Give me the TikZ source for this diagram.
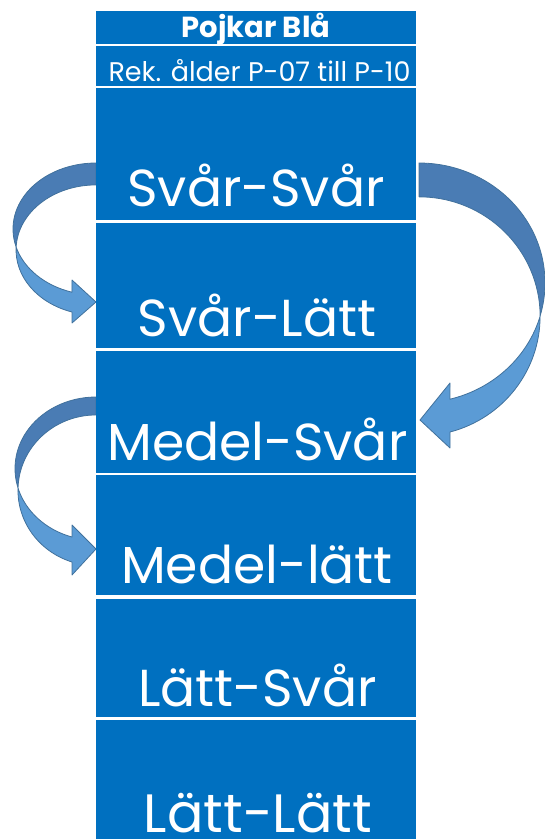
\documentclass[tikz,border=0pt]{standalone}
\usepackage{fontspec}
\setmainfont{Poppins}
\begin{document}
\begin{tikzpicture}[x=1pt,y=1pt,
  cell/.style={fill=cellblue, draw=none, minimum width=320pt, inner sep=0pt, anchor=north},
  big/.style={text=white, anchor=base, inner sep=0pt, text depth=0pt, font=\fontsize{52}{52}\selectfont},
  darkpart/.style={fill=arrdark, draw=arrline, line width=0.8pt, line join=round},
  lightpart/.style={fill=arrlight, draw=arrline, line width=0.8pt, line join=round}]
\definecolor{cellblue}{RGB}{0,112,192}
\definecolor{arrdark}{RGB}{74,124,180}
\definecolor{arrlight}{RGB}{91,155,213}
\definecolor{arrline}{RGB}{65,113,156}
\useasboundingbox (0,0) rectangle (545,-839);
% ---- curved arrows (drawn first) ----
% left arrow 1: Svar-Svar -> Svar-Latt
\draw[darkpart] (96,-163) arc[start angle=90, end angle=195.8, x radius=83pt, y radius=66pt]
  arc[start angle=177.4, end angle=90, x radius=80pt, y radius=65pt] -- cycle;
\draw[lightpart] (16.1,-247) arc[start angle=195.8, end angle=253.2, x radius=83pt, y radius=66pt]
  -- (72,-280) -- (96,-302) -- (72,-323) -- (72,-312)
  arc[start angle=252.5, end angle=177.4, x radius=80pt, y radius=65pt] -- cycle;
% left arrow 2: Medel-Svar -> Medel-latt
\draw[darkpart] (96,-397) arc[start angle=90, end angle=195.7, x radius=81pt, y radius=71.6pt]
  arc[start angle=178.25, end angle=90, x radius=78pt, y radius=75.3pt] -- cycle;
\draw[lightpart] (18,-488) arc[start angle=195.7, end angle=252.8, x radius=81pt, y radius=71.6pt]
  -- (72,-525) -- (96,-549) -- (72,-575) -- (72,-562)
  arc[start angle=252.1, end angle=178.25, x radius=78pt, y radius=75.3pt] -- cycle;
% right arrow: Svar-Svar -> Medel-Svar
\draw[darkpart] (419,-163) arc[start angle=90, end angle=-16, x radius=126pt, y radius=119.9pt]
  arc[start angle=0.2, end angle=90, x radius=121pt, y radius=119.5pt] -- cycle;
\draw[lightpart] (540.2,-316) arc[start angle=-16, end angle=-75.8, x radius=126pt, y radius=119.9pt]
  -- (450,-383) -- (420,-420) -- (450,-448) -- (450,-432)
  arc[start angle=-75.2, end angle=0.2, x radius=121pt, y radius=119.5pt] -- cycle;
% ---- column of cells ----
\node[cell, minimum height=32.3pt] (r1) at (256,-11) {};
\node[cell, minimum height=39.3pt] (r2) at (256,-46) {};
\node[cell, minimum height=131.3pt] (r3) at (256,-88) {};
\node[cell, minimum height=125.4pt] (r4) at (256,-222.3) {};
\node[cell, minimum height=122.4pt] (r5) at (256,-350.3) {};
\node[cell, minimum height=120pt] (r6) at (256,-475) {};
\node[cell, minimum height=118.4pt] (r7) at (256,-598.3) {};
\node[cell, minimum height=119pt] (r8) at (256,-720) {};
% ---- texts ----
\node[text=white, anchor=base, inner sep=0pt, font=\fontsize{29}{29}\selectfont\bfseries] (t1) at (256,-37.7) {Pojkar Blå};
\node[text=white, anchor=base, inner sep=0pt, font=\fontsize{27}{27}\selectfont] (t2) at (259.5,-81) {Rek. ålder P-07 till P-10};
\node[big] (t3) at (256,-206.7) {Svår-Svår};
\node[big] (t4) at (257,-336) {Svår-Lätt};
\node[big] (t5) at (257.5,-460) {Medel-Svår};
\node[big] (t6) at (257,-583) {Medel-lätt};
\node[big] (t7) at (257.5,-706) {Lätt-Svår};
\node[big, font=\fontsize{54}{54}\selectfont] (t8) at (258,-832.5) {Lätt-Lätt};
\end{tikzpicture}
\end{document}
